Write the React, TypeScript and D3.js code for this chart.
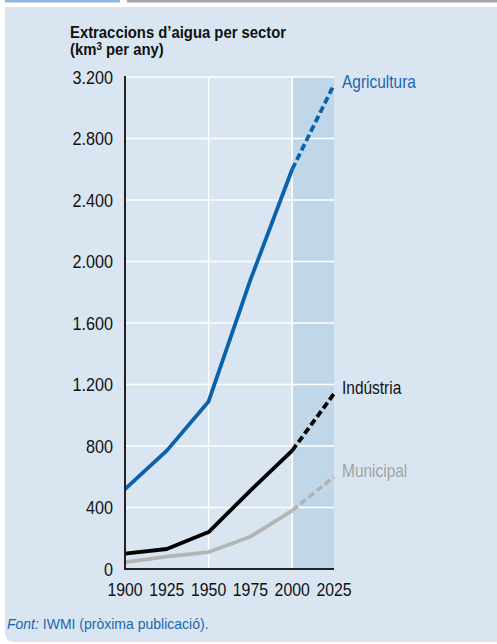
import React from "react";
import * as d3 from "d3";

const years = [1900, 1925, 1950, 1975, 2000, 2025];
const agriculture = [520, 770, 1090, 1880, 2600, 3150];
const industry = [100, 130, 240, 510, 770, 1140];
const municipal = [45, 80, 110, 210, 380, 600];
const yTicks = [0, 400, 800, 1200, 1600, 2000, 2400, 2800, 3200];
const yTickLabels = ["0", "400", "800", "1.200", "1.600", "2.000", "2.400", "2.800", "3.200"];
const xTicks = [1900, 1925, 1950, 1975, 2000, 2025];
const xGrid = [1950, 2000];
const projectionStart = 2000;
const titleLines = ["Extraccions d\u2019aigua per sector"];
const seriesNames = ["Agricultura", "Ind\u00fastria", "Municipal"];

const FONT = "'Liberation Sans', Arial, sans-serif";

function CText({ x, y, sx = 0.86, children, ...rest }: any) {
  return (
    <text transform={`translate(${x},${y}) scale(${sx},1)`} {...rest}>{children}</text>
  );
}

export default function App() {
  const W = 497, H = 644;
  const x = d3.scaleLinear().domain([1900, 2025]).range([125, 334]);
  const y = d3.scaleLinear().domain([0, 3200]).range([569, 77]);
  const line = d3.line<[number, number]>().x(d => x(d[0])).y(d => y(d[1]));

  const series = [
    { name: seriesNames[0], values: agriculture, color: "#0a62ad", labelColor: "#1a67b1" },
    { name: seriesNames[1], values: industry, color: "#000000", labelColor: "#111111" },
    { name: seriesNames[2], values: municipal, color: "#b4b4b4", labelColor: "#a3a3a3" },
  ];
  const labelY = [88, 394, 477];

  return (
    <svg width={W} height={H} style={{ position: "absolute", left: 0, top: 0 }} fontFamily={FONT}>
      <rect x={5} y={0} width={115} height={2.5} fill="#8db6de" />
      <rect x={127} y={0} width={370} height={2.5} fill="#a5a5a5" />
      <path d={`M5,7 H497 V642 H15 Q5,642 5,632 Z`} fill="#d9e6f1" />
      <CText x={70} y={38} sx={0.9} fontSize={16.5} fontWeight="bold" fill="#111">{titleLines[0]}</CText>
      <CText x={70} y={55} sx={0.9} fontSize={16.5} fontWeight="bold" fill="#111">
        (km<tspan fontSize={11} dy={-5}>3</tspan><tspan dy={5}> per any)</tspan>
      </CText>
      <rect x={x(projectionStart)} y={y(3200)} width={x(2025) - x(projectionStart)} height={y(0) - y(3200)} fill="#c0d7ea" />
      {yTicks.filter(t => t > 0).map(t => (
        <line key={t} x1={x(1900)} x2={x(2025)} y1={y(t)} y2={y(t)} stroke="#fff" strokeWidth={1.5} />
      ))}
      {xGrid.map(t => (
        <line key={t} x1={x(t)} x2={x(t)} y1={y(3200)} y2={y(0)} stroke="#fff" strokeWidth={1.5} />
      ))}
      {series.map((s, i) => {
        const pts: [number, number][] = years.map((yr, j) => [yr, s.values[j]]);
        const solid = pts.filter(p => p[0] <= projectionStart);
        const dashed = pts.filter(p => p[0] >= projectionStart);
        return (
          <g key={s.name}>
            <path d={line(solid) || ""} fill="none" stroke={s.color} strokeWidth={3.8} strokeLinejoin="round" />
            <path d={line(dashed) || ""} fill="none" stroke={s.color} strokeWidth={3.8} strokeDasharray="7,3.5" />
            <CText x={342} y={labelY[i]} fontSize={18} fill={s.labelColor}>{s.name}</CText>
          </g>
        );
      })}
      <line x1={x(1900)} x2={x(1900)} y1={y(3200) - 1} y2={y(0)} stroke="#222" strokeWidth={2} />
      <line x1={x(1900) - 1} x2={x(2025)} y1={y(0)} y2={y(0)} stroke="#222" strokeWidth={2} />
      {yTicks.map((t, i) => (
        <CText key={t} x={113} y={y(t) + 6.5} sx={0.9} textAnchor="end" fontSize={18} fill="#111">{yTickLabels[i]}</CText>
      ))}
      {xTicks.map(t => (
        <CText key={t} x={x(t)} y={596} sx={0.88} textAnchor="middle" fontSize={18} fill="#111">{t}</CText>
      ))}
      <text x={7} y={629} fontSize={14} fill="#1a66b0">
        <tspan fontStyle="italic">Font:</tspan> IWMI (pr{"\u00f2"}xima publicaci{"\u00f3"}).
      </text>
    </svg>
  );
}
